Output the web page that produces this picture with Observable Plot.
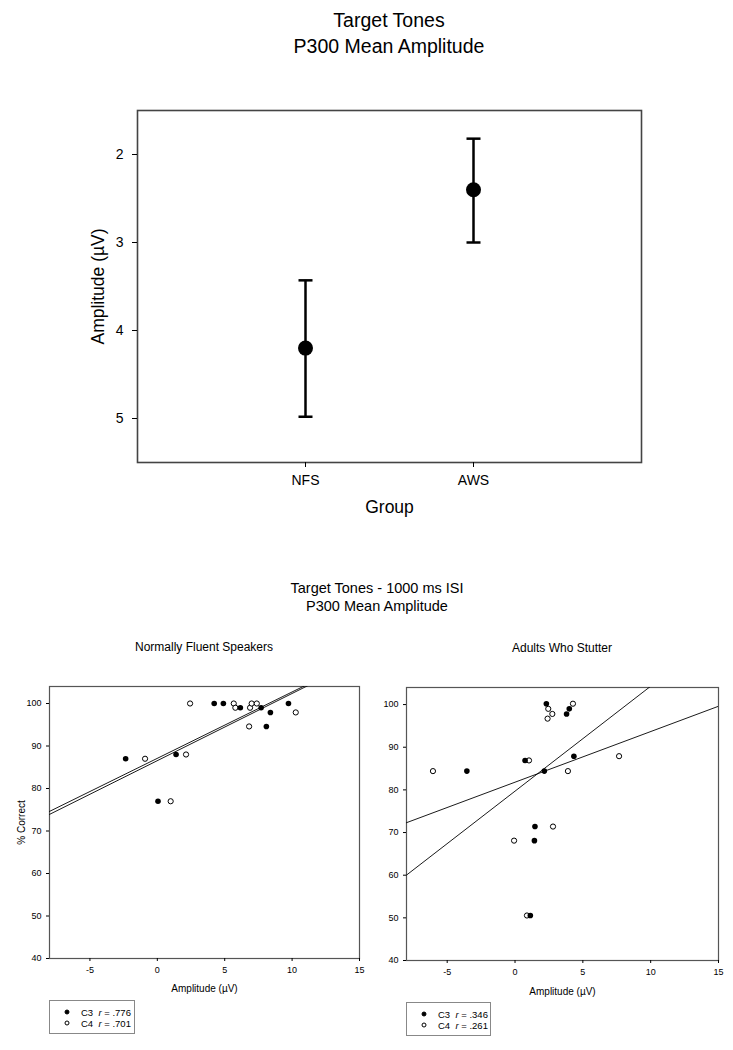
<!DOCTYPE html>
<html><head><meta charset="utf-8">
<script src="https://cdn.jsdelivr.net/npm/d3@7"></script>
<script src="https://cdn.jsdelivr.net/npm/@observablehq/plot@0.6"></script>
<style>
body{margin:0;background:#fff;font-family:"Liberation Sans",Arial,sans-serif;}
#root{position:relative;width:733px;height:1050px;overflow:hidden;}
.t{position:absolute;transform:translate(-50%,-50%);white-space:nowrap;color:#000;line-height:1;}
.plot{position:absolute;}
.legend{position:absolute;border:1px solid #888;background:#fff;box-sizing:border-box;}
.lg-dot{position:absolute;width:5px;height:5px;border-radius:50%;box-sizing:border-box;transform:translate(-50%,-50%);}
.lg-txt{position:absolute;font-size:9.5px;transform:translateY(-50%);white-space:nowrap;}
</style></head><body><div id="root"></div>
<script>
// ---------- Data ----------
const titleLines = ["Target Tones", "P300 Mean Amplitude"];
const groups = ["NFS", "AWS"];
const groupMean = [4.2, 2.4];
const groupLow = [3.43, 1.82];
const groupHigh = [4.98, 3.0];
const topYTicks = [2, 3, 4, 5];

const bottomTitleLines = ["Target Tones - 1000 ms ISI", "P300 Mean Amplitude"];
const panelTitles = ["Normally Fluent Speakers", "Adults Who Stutter"];
const scatterXTicks = [-5, 0, 5, 10, 15];
const scatterYTicks = [40, 50, 60, 70, 80, 90, 100];
const scatterXDomain = [-8, 15];
const scatterYDomain = [40, 104];

// Normally Fluent Speakers
const nfsC3x = [-2.35, 0.05, 1.39, 4.22, 4.9, 6.16, 7.7, 8.39, 8.09, 9.73];
const nfsC3y = [87, 77, 88, 100, 100, 99, 99, 97.9, 94.6, 100];
const nfsC4x = [-0.91, 0.99, 2.13, 2.43, 5.67, 5.79, 6.88, 7.0, 7.38, 6.81, 10.27];
const nfsC4y = [87, 77, 88, 100, 100, 99, 99, 100, 100, 94.6, 97.9];
const nfsFitSlope = [1.562, 1.581];      // C3, C4
const nfsFitIntercept = [87.1, 86.55];
const nfsR = [".776", ".701"];

// Adults Who Stutter
const awsC3x = [2.31, 3.8, 4.0, 0.74, -3.55, 2.16, 4.34, 1.47, 1.43, 1.13];
const awsC3y = [100.2, 97.8, 99.0, 86.9, 84.4, 84.4, 87.9, 71.4, 68.1, 50.55];
const awsC4x = [2.45, 2.75, 2.4, 4.27, 1.03, -6.05, 3.9, 7.67, 2.8, -0.07, 0.88];
const awsC4y = [99.0, 97.8, 96.7, 100.2, 86.9, 84.4, 84.4, 87.9, 71.4, 68.1, 50.55];
const awsFitSlope = [2.46, 1.187];       // C3, C4
const awsFitIntercept = [79.7, 81.8];
const awsR = [".346", ".261"];

const seriesNames = ["C3", "C4"];

// ---------- Helpers ----------
const root = document.getElementById("root");
const FONT = "'Liberation Sans', Arial, sans-serif";
function addText(txt, x, y, size, extra = "") {
  const d = document.createElement("div");
  d.className = "t";
  d.style.left = x + "px"; d.style.top = y + "px"; d.style.fontSize = size + "px";
  d.style.cssText += extra;
  d.textContent = txt;
  root.appendChild(d);
}
function place(svg, left, top) {
  const w = document.createElement("div");
  w.className = "plot"; w.style.left = left + "px"; w.style.top = top + "px";
  w.appendChild(svg); root.appendChild(w);
}
const capSymbol = {
  draw(context, size) {
    const r = Math.sqrt(size / Math.PI);
    context.moveTo(-r, 0); context.lineTo(r, 0);
  }
};

// ---------- Top chart ----------
addText(titleLines[0], 389, 21, 19.5);
addText(titleLines[1], 389, 47, 19.5);

const topData = groups.map((g, i) => ({group: g, mean: groupMean[i], lo: groupLow[i], hi: groupHigh[i]}));

const topPlot = Plot.plot({
  width: 733, height: 540,
  marginLeft: 137, marginRight: 92, marginTop: 110, marginBottom: 78,
  style: {fontFamily: FONT, fontSize: "14px", color: "#000", background: "transparent", overflow: "visible"},
  x: {type: "point", domain: groups, padding: 1},
  y: {domain: [1.5, 5.5], reverse: true},
  marks: [
    Plot.frame({stroke: "#444", strokeWidth: 1.6}),
    Plot.ruleX(topData, {x: "group", y1: "lo", y2: "hi", stroke: "#000", strokeWidth: 2.5}),
    Plot.dot(topData, {x: "group", y: "lo", symbol: capSymbol, r: 7, stroke: "#000", strokeWidth: 2.5}),
    Plot.dot(topData, {x: "group", y: "hi", symbol: capSymbol, r: 7, stroke: "#000", strokeWidth: 2.5}),
    Plot.dot(topData, {x: "group", y: "mean", r: 7.5, fill: "#000"}),
    Plot.axisY({ticks: topYTicks, tickSize: 5, tickPadding: 9, label: null, fontSize: 14, tickFormat: d => `${d}`}),
    Plot.axisX({tickSize: 5, tickPadding: 8, label: null, fontSize: 14}),
    Plot.text(["Amplitude (\u00b5V)"], {text: d => d, frameAnchor: "left", textAnchor: "middle", dx: -39, rotate: -90, fontSize: 17.5}),
    Plot.text(["Group"], {text: d => d, frameAnchor: "bottom", dy: 50, fontSize: 17.5})
  ]
});
place(topPlot, 0, 0);

// ---------- Bottom charts ----------
addText(bottomTitleLines[0], 377, 588, 14.5);
addText(bottomTitleLines[1], 377, 606, 14.5);
addText(panelTitles[0], 204, 647, 12);
addText(panelTitles[1], 562, 648, 12);

function scatterPanel(c3x, c3y, c4x, c4y, slopes, intercepts, opts) {
  const c3 = c3x.map((x, i) => ({x, y: c3y[i]}));
  const c4 = c4x.map((x, i) => ({x, y: c4y[i]}));
  const fits = slopes.map((s, i) => scatterXDomain.map(x => ({x, y: intercepts[i] + s * x, s: seriesNames[i]}))).flat();
  const marks = [
    Plot.frame({stroke: "#555", strokeWidth: 1.2}),
    Plot.line(fits, {x: "x", y: "y", z: "s", stroke: "#000", strokeWidth: 0.9, clip: true}),
    Plot.dot(c4, {x: "x", y: "y", r: 2.6, fill: "#fff", stroke: "#000", strokeWidth: 1}),
    Plot.dot(c3, {x: "x", y: "y", r: 2.8, fill: "#000", stroke: "none"}),
    Plot.axisY({ticks: scatterYTicks, tickSize: 3, tickPadding: 5, label: null, fontSize: 9, tickFormat: d => `${d}`}),
    Plot.axisX({ticks: scatterXTicks, tickSize: 3, tickPadding: 5, label: null, fontSize: 9, tickFormat: d => `${d}`}),
    Plot.text(["Amplitude (\u00b5V)"], {text: d => d, frameAnchor: "bottom", dy: opts.xLabelDy, fontSize: 10})
  ];
  if (opts.yLabel) marks.push(Plot.text([opts.yLabel], {text: d => d, frameAnchor: "left", textAnchor: "middle", dx: -28, rotate: -90, fontSize: 10}));
  return Plot.plot({
    width: opts.width, height: opts.height,
    marginLeft: opts.ml, marginRight: opts.mr, marginTop: opts.mt, marginBottom: opts.mb,
    style: {fontFamily: FONT, fontSize: "9px", color: "#000", background: "transparent", overflow: "visible"},
    x: {domain: scatterXDomain},
    y: {domain: scatterYDomain},
    marks
  });
}

place(scatterPanel(nfsC3x, nfsC3y, nfsC4x, nfsC4y, nfsFitSlope, nfsFitIntercept,
  {width: 366, height: 360, ml: 49, mr: 7, mt: 46, mb: 42, xLabelDy: 33.5, yLabel: "% Correct"}), 0, 640);
place(scatterPanel(awsC3x, awsC3y, awsC4x, awsC4y, awsFitSlope, awsFitIntercept,
  {width: 367, height: 360, ml: 40, mr: 15, mt: 47, mb: 40, xLabelDy: 34, yLabel: null}), 366, 640);

// ---------- Legends ----------
function legend(left, top, w, h, rs) {
  const box = document.createElement("div");
  box.className = "legend";
  Object.assign(box.style, {left: left + "px", top: top + "px", width: w + "px", height: h + "px"});
  seriesNames.forEach((name, i) => {
    const y = 11 + i * 10.8;
    const dot = document.createElement("div");
    dot.className = "lg-dot";
    Object.assign(dot.style, {left: "17px", top: y + "px",
      background: i === 0 ? "#000" : "#fff", border: "1px solid #000"});
    box.appendChild(dot);
    const t = document.createElement("div");
    t.className = "lg-txt";
    Object.assign(t.style, {left: "31px", top: y + "px"});
    t.innerHTML = `${name}&nbsp;&nbsp;<i>r</i> = ${rs[i]}`;
    box.appendChild(t);
  });
  root.appendChild(box);
}
legend(49, 1000, 86, 34, nfsR);
legend(406, 1002, 85, 34, awsR);
</script>
</body></html>
